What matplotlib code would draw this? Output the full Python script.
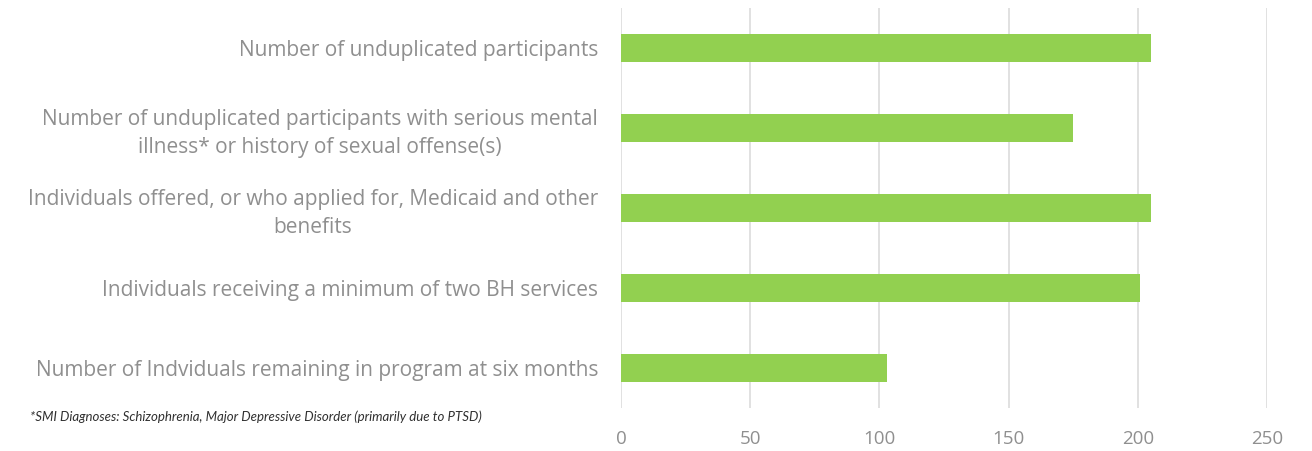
import matplotlib.pyplot as plt

# chart data, top to bottom as drawn
categories = [
    "Number of unduplicated participants",
    "Number of unduplicated participants with serious mental\nillness* or history of sexual offense(s)",
    "Individuals offered, or who applied for, Medicaid and other\nbenefits",
    "Individuals receiving a minimum of two BH services",
    "Number of Indviduals remaining in program at six months",
]
values = [205, 175, 205, 201, 103]
x_ticks = [0, 50, 100, 150, 200, 250]
footnote = "*SMI Diagnoses: Schizophrenia, Major Depressive Disorder (primarily due to PTSD)"

bar_color = "#92D050"
text_color = "#8f8f8f"
grid_color = "#d9d9d9"

plt.rcParams['font.family'] = ['Open Sans', 'DejaVu Sans']

fig = plt.figure(figsize=(13.12, 4.51), dpi=100)
ax = fig.add_axes([621 / 1312, 43 / 451, 646 / 1312, 400 / 451])

ypos = list(range(len(categories)))[::-1]
ax.barh(ypos, values, height=0.35, color=bar_color, zorder=3)

ax.set_xlim(0, 250)
ax.set_ylim(-0.5, len(categories) - 0.5)
ax.set_xticks(x_ticks)
ax.set_xticklabels([str(t) for t in x_ticks])
ax.set_yticks(ypos)
ax.set_yticklabels(categories, multialignment='center', linespacing=1.4)

ax.grid(axis='x', color=grid_color, linewidth=1.1, zorder=0)
for s in ax.spines.values():
    s.set_visible(False)
ax.tick_params(axis='both', length=0, colors=text_color)
ax.tick_params(axis='y', pad=16.5, labelsize=15)
ax.tick_params(axis='x', pad=16, labelsize=13.5)

fig.text(30 / 1312, 1 - 417 / 451, footnote, fontsize=9.5, style='italic',
         color='#303030', va='center', ha='left', family=['Lato', 'DejaVu Sans'])

fig.savefig("out.png", dpi=100)
